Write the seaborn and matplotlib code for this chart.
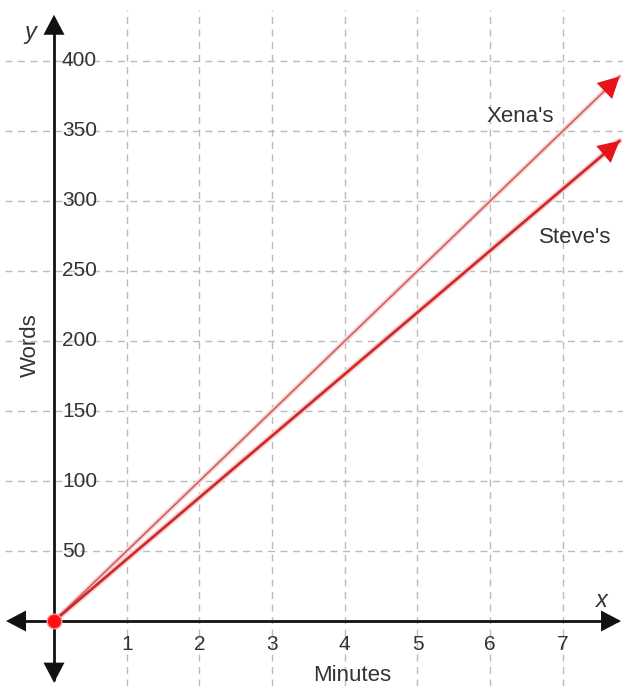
import numpy as np
import pandas as pd

import matplotlib
matplotlib.use('Agg')

from matplotlib import pyplot as plt
import seaborn as sns

# data
minutes = [0, 7.78]
xena_words = [0, 389]
steve_words = [0, 343]
x_ticks = [1, 2, 3, 4, 5, 6, 7]
y_ticks = [50, 100, 150, 200, 250, 300, 350, 400]

sns.set_style('white')
plt.rcParams['font.family'] = ['Liberation Sans', 'DejaVu Sans']

fig = plt.figure(figsize=(6.23, 6.86), dpi=100, facecolor='white')
ax = fig.add_axes([5 / 623, 0, 618 / 623, 676 / 686])
ax.set_facecolor('#f2f2f2')
ax.set_xlim(-0.674, 7.827)
ax.set_ylim(-46.4, 436.4)
ax.axis('off')

grid_kw = dict(color='#bbbbbb', lw=1, ls=(0, (5, 4)), zorder=1)
for xt in x_ticks:
    ax.axvline(xt, **grid_kw)
for yt in y_ticks:
    ax.axhline(yt, **grid_kw)

# axes with arrow heads
ax.plot([-0.6, 7.75], [0, 0], color='#111111', lw=2, zorder=3)
ax.plot([0, 0], [-42, 430], color='#111111', lw=2, zorder=3)
ax_arrow = dict(arrowstyle='-|>,head_length=0.8,head_width=0.42', color='#111111',
                lw=0, mutation_scale=18, shrinkA=0, shrinkB=0)
ax.annotate('', xy=(7.8, 0), xytext=(7.5, 0), arrowprops=ax_arrow, zorder=4)
ax.annotate('', xy=(-0.66, 0), xytext=(-0.4, 0), arrowprops=ax_arrow, zorder=4)
ax.annotate('', xy=(0, 433), xytext=(0, 400), arrowprops=ax_arrow, zorder=4)
ax.annotate('', xy=(0, -44), xytext=(0, -10), arrowprops=ax_arrow, zorder=4)

df = pd.DataFrame({'Minutes': minutes + minutes,
                   'Words': xena_words + steve_words,
                   'who': ["Xena's"] * 2 + ["Steve's"] * 2})

# soft halo under the lines
sns.lineplot(data=df[df.who == "Xena's"], x='Minutes', y='Words', color='#f8d6d6',
             lw=3.5, ax=ax, zorder=4, legend=False)
sns.lineplot(data=df[df.who == "Steve's"], x='Minutes', y='Words', color='#f8d6d6',
             lw=4.5, ax=ax, zorder=4, legend=False)
sns.lineplot(data=df[df.who == "Xena's"], x='Minutes', y='Words', color='#d06060',
             lw=1.2, ax=ax, zorder=5, legend=False)
sns.lineplot(data=df[df.who == "Steve's"], x='Minutes', y='Words', color='#cf2b2b',
             lw=2.0, ax=ax, zorder=5, legend=False)
ax.axis('off')

red_arrow = dict(arrowstyle='-|>,head_length=0.8,head_width=0.42', color='#e8141b',
                 lw=0, mutation_scale=19, shrinkA=0, shrinkB=0)
for ys in (xena_words, steve_words):
    tip = (minutes[-1], ys[-1])
    back = (minutes[-1] - 0.3, ys[-1] - 0.3 * ys[-1] / minutes[-1])
    ax.annotate('', xy=tip, xytext=back, arrowprops=red_arrow, zorder=6)

ax.scatter([0], [0], s=110, color='#ff1010', zorder=7, edgecolor='#ff9090', linewidth=1)

txt = dict(color='#333333', fontsize=15)
for xt in x_ticks:
    ax.text(xt, -17, str(xt), ha='center', va='center', **txt)
for yt in y_ticks:
    ax.text(0.11, yt, str(yt), ha='left', va='center', **txt)

ax.text(4.1, -39, 'Minutes', ha='center', va='center', color='#333333', fontsize=16)
ax.text(-0.33, 197, 'Words', ha='center', va='center', rotation=90,
        color='#333333', fontsize=16)
ax.text(7.54, 15, 'x', ha='center', va='center', style='italic', color='#333333', fontsize=17)
ax.text(-0.33, 420, 'y', ha='center', va='center', style='italic', color='#333333', fontsize=17)
ax.text(6.41, 360, "Xena's", ha='center', va='center', color='#333333', fontsize=16)
ax.text(7.17, 274, "Steve's", ha='center', va='center', color='#333333', fontsize=16)

plt.savefig('out.png', dpi=100, facecolor='white')
